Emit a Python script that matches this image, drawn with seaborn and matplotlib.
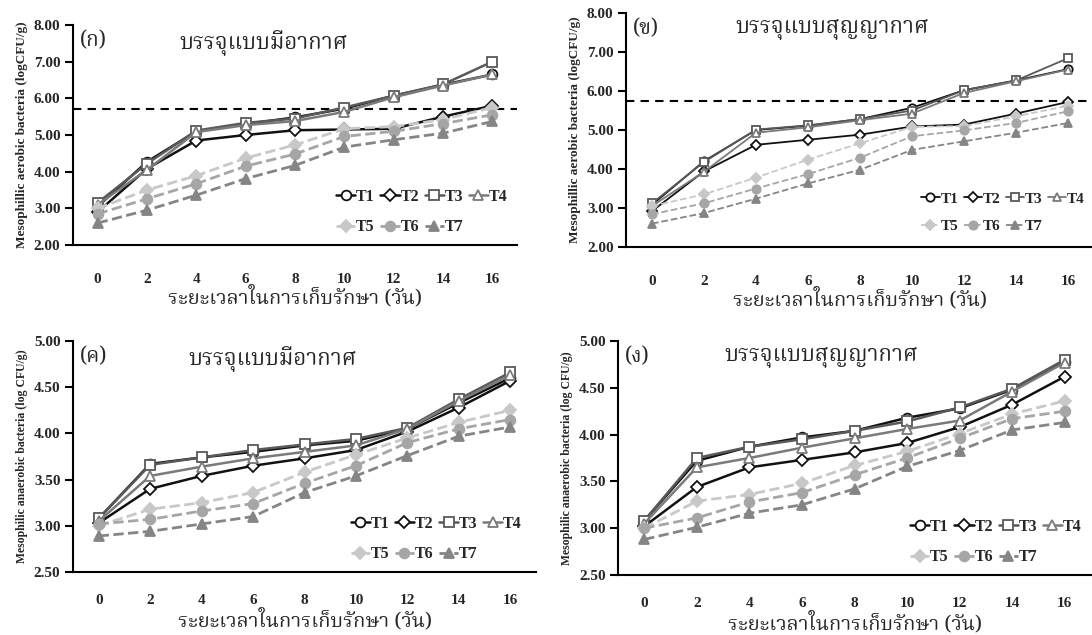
import numpy as np
import pandas as pd
import matplotlib
matplotlib.use("Agg")
import matplotlib.pyplot as plt
import seaborn as sns
from matplotlib import font_manager
from matplotlib.ft2font import FT2Font

# ---------------- data ----------------
days = [0, 2, 4, 6, 8, 10, 12, 14, 16]
series_names = ["T1", "T2", "T3", "T4", "T5", "T6", "T7"]

a_T1 = [3.05, 4.27, 5.10, 5.30, 5.48, 5.72, 6.07, 6.37, 6.65]
a_T2 = [2.90, 4.08, 4.85, 5.00, 5.13, 5.15, 5.17, 5.50, 5.80]
a_T3 = [3.15, 4.22, 5.12, 5.33, 5.45, 5.75, 6.07, 6.38, 7.00]
a_T4 = [3.10, 4.05, 5.08, 5.27, 5.38, 5.63, 6.03, 6.35, 6.65]
a_T5 = [3.00, 3.50, 3.89, 4.37, 4.73, 5.17, 5.23, 5.42, 5.75]
a_T6 = [2.85, 3.26, 3.67, 4.15, 4.48, 4.96, 5.10, 5.31, 5.55]
a_T7 = [2.60, 2.95, 3.36, 3.81, 4.17, 4.67, 4.87, 5.05, 5.37]

b_T1 = [3.08, 4.20, 5.00, 5.11, 5.28, 5.57, 6.02, 6.27, 6.56]
b_T2 = [2.92, 3.94, 4.62, 4.75, 4.88, 5.09, 5.14, 5.42, 5.72]
b_T3 = [3.12, 4.18, 5.01, 5.12, 5.28, 5.50, 6.02, 6.27, 6.84]
b_T4 = [3.05, 3.93, 4.93, 5.07, 5.25, 5.42, 5.95, 6.25, 6.55]
b_T5 = [3.05, 3.35, 3.78, 4.24, 4.66, 5.08, 5.10, 5.35, 5.62]
b_T6 = [2.84, 3.12, 3.50, 3.87, 4.29, 4.84, 4.99, 5.18, 5.48]
b_T7 = [2.60, 2.87, 3.24, 3.63, 3.98, 4.49, 4.71, 4.93, 5.18]

c_T1 = [3.08, 3.67, 3.74, 3.80, 3.87, 3.92, 4.05, 4.33, 4.60]
c_T2 = [3.03, 3.40, 3.54, 3.65, 3.73, 3.82, 4.02, 4.28, 4.57]
c_T3 = [3.08, 3.66, 3.74, 3.82, 3.88, 3.94, 4.06, 4.37, 4.66]
c_T4 = [3.05, 3.54, 3.64, 3.73, 3.80, 3.87, 4.05, 4.35, 4.63]
c_T5 = [3.00, 3.18, 3.25, 3.36, 3.58, 3.77, 3.95, 4.12, 4.25]
c_T6 = [3.02, 3.07, 3.16, 3.24, 3.46, 3.65, 3.90, 4.05, 4.15]
c_T7 = [2.89, 2.94, 3.02, 3.10, 3.36, 3.54, 3.76, 3.97, 4.07]

d_T1 = [3.08, 3.72, 3.87, 3.97, 4.04, 4.18, 4.28, 4.48, 4.78]
d_T2 = [3.02, 3.44, 3.65, 3.73, 3.81, 3.91, 4.08, 4.32, 4.62]
d_T3 = [3.08, 3.75, 3.87, 3.95, 4.04, 4.14, 4.29, 4.49, 4.80]
d_T4 = [3.05, 3.65, 3.75, 3.86, 3.96, 4.06, 4.15, 4.46, 4.77]
d_T5 = [3.00, 3.29, 3.36, 3.48, 3.67, 3.82, 4.01, 4.22, 4.36]
d_T6 = [3.00, 3.11, 3.28, 3.38, 3.57, 3.75, 3.96, 4.17, 4.25]
d_T7 = [2.88, 3.01, 3.16, 3.25, 3.42, 3.66, 3.83, 4.05, 4.13]

limit_a = 5.70
limit_b = 5.75

panel_letters = ["(ก)", "(ข)", "(ค)", "(ง)"]
titles = ["บรรจุแบบมีอากาศ", "บรรจุแบบสุญญากาศ", "บรรจุแบบมีอากาศ", "บรรจุแบบสุญญากาศ"]
xlabel_text = "ระยะเวลาในการเก็บรักษา (วัน)"
ylabels = ["Mesophillic aerobic bacteria (logCFU/g)",
           "Mesophillic aerobic bacteria (logCFU/g)",
           "Mesophilic anaerobic bacteria (log CFU/g)",
           "Mesophilic anaerobic bacteria (log CFU/g)"]
yticks_ab = [2, 3, 4, 5, 6, 7, 8]
yticks_cd = [2.5, 3.0, 3.5, 4.0, 4.5, 5.0]

# ---------------- fonts ----------------
sns.set_theme(style="white")


def find_thai_font():
    prefs = ["Noto Serif Thai", "Noto Sans Thai", "Loma", "Garuda", "Norasi",
             "Tlwg Typo", "Kinnari", "Waree", "Sawasdee"]
    found = {}
    for f in font_manager.fontManager.ttflist:
        try:
            ft = FT2Font(f.fname)
            if 0x0E1A in ft.get_charmap():
                found.setdefault(f.name, f.fname)
        except Exception:
            pass
    for p in prefs:
        if p in found:
            return p
    return next(iter(found), None)


thai = find_thai_font()
serif_fams = ["Liberation Serif", "DejaVu Serif"]
thai_fams = ([thai] if thai else []) + serif_fams
plt.rcParams["font.family"] = serif_fams
plt.rcParams["axes.unicode_minus"] = False

fig = plt.figure(figsize=(10.92, 6.35), dpi=100)
W, H = 1092.0, 635.0


def add_ax(left, top, right, bottom):
    return fig.add_axes([left / W, 1 - bottom / H, (right - left) / W, (bottom - top) / H])


axes = [add_ax(73, 25, 517, 245),
        add_ax(626, 13, 1094, 247),
        add_ax(73, 341, 536, 572),
        add_ax(618, 341, 1091, 575)]

panels = [
    [a_T1, a_T2, a_T3, a_T4, a_T5, a_T6, a_T7],
    [b_T1, b_T2, b_T3, b_T4, b_T5, b_T6, b_T7],
    [c_T1, c_T2, c_T3, c_T4, c_T5, c_T6, c_T7],
    [d_T1, d_T2, d_T3, d_T4, d_T5, d_T6, d_T7],
]

styles = {
    "T1": dict(color="#111111", marker="o", mfc="white", mec="#111111", ls="-"),
    "T2": dict(color="#111111", marker="D", mfc="white", mec="#111111", ls="-"),
    "T3": dict(color="#595959", marker="s", mfc="white", mec="#595959", ls="-"),
    "T4": dict(color="#7a7a7a", marker="^", mfc="white", mec="#7a7a7a", ls="-"),
    "T5": dict(color="#c8c8c8", marker="D", mfc="#c8c8c8", mec="#c8c8c8", ls="--"),
    "T6": dict(color="#a6a6a6", marker="o", mfc="#a6a6a6", mec="#a6a6a6", ls="--"),
    "T7": dict(color="#858585", marker="^", mfc="#858585", mec="#858585", ls="--"),
}

legend_anchor = [(1.0, 0.0), (1.0, 0.02), (0.99, 0.0), (1.0, 0.0)]

for i, ax in enumerate(axes):
    thin = (i == 1)
    lw_solid = 1.3 if thin else 1.8
    lw_dash = 1.3 if thin else 2.0
    ms = 6 if thin else 7
    for name, vals in zip(series_names, panels[i]):
        st = styles[name]
        df = pd.DataFrame({"day": days, "val": vals})
        sns.lineplot(data=df, x="day", y="val", ax=ax, color=st["color"],
                     marker=st["marker"], markersize=ms if st["marker"] != "D" else ms - 1,
                     markerfacecolor=st["mfc"], markeredgecolor=st["mec"],
                     markeredgewidth=1.3, linestyle=st["ls"],
                     linewidth=lw_solid if st["ls"] == "-" else lw_dash,
                     label=name, errorbar=None)
    if i == 0:
        ax.axhline(limit_a, color="black", linestyle=(0, (4, 3)), linewidth=1.5, zorder=0.5)
    if i == 1:
        ax.axhline(limit_b, color="black", linestyle=(0, (4, 3)), linewidth=1.5, zorder=0.5)

    ax.set_xlim(-1, 17)
    if i < 2:
        ax.set_ylim(2, 8)
        ax.set_yticks(yticks_ab)
    else:
        ax.set_ylim(2.5, 5.0)
        ax.set_yticks(yticks_cd)
    ax.set_yticklabels([f"{v:.2f}" for v in ax.get_yticks()], fontweight="bold", fontsize=11)
    ax.set_xticks(np.arange(-1, 18, 2))
    ax.set_xticklabels([])
    ax.set_xticks(days, minor=True)
    ax.set_xticklabels([str(d) for d in days], minor=True, fontweight="bold", fontsize=11)
    ax.tick_params(axis="x", which="major", direction="out", length=7, width=1.5, color="black")
    ax.tick_params(axis="x", which="minor", length=0, pad=20 if i < 2 else 16)
    ax.tick_params(axis="y", which="major", direction="out", length=6, width=1.5,
                   color="black", pad=3, left=True)
    for s in ["top", "right"]:
        ax.spines[s].set_visible(False)
    for s in ["left", "bottom"]:
        ax.spines[s].set_color("black")
        ax.spines[s].set_linewidth(1.5)
    ax.grid(False)
    ax.set_facecolor("none")

    ax.set_ylabel(ylabels[i], fontweight="bold", fontsize=9.5 if i < 2 else 8.5, labelpad=4)
    ax.set_xlabel(xlabel_text, family=thai_fams, fontsize=14.5, labelpad=0 if i < 2 else 1)

    ax.text(0.015, 0.98, panel_letters[i], transform=ax.transAxes, ha="left", va="top",
            family=thai_fams, fontsize=15, fontweight="bold")
    ax.text(0.43 if i != 1 else 0.44, 0.98, titles[i], transform=ax.transAxes, ha="center",
            va="top", family=thai_fams, fontsize=16, fontweight="bold")

    handles, labels = ax.get_legend_handles_labels()
    hmap = dict(zip(labels, handles))
    order = ["T1", "T5", "T2", "T6", "T3", "T7", "T4"]
    ax.legend([hmap[k] for k in order], order, ncol=4, loc="lower right",
              bbox_to_anchor=legend_anchor[i], frameon=False,
              prop=dict(weight="bold", size=11.5 if i != 1 else 11),
              handlelength=1.2, handletextpad=0.05, columnspacing=0.35,
              labelspacing=0.9, borderaxespad=0.2)

fig.savefig("out.png", dpi=100)
